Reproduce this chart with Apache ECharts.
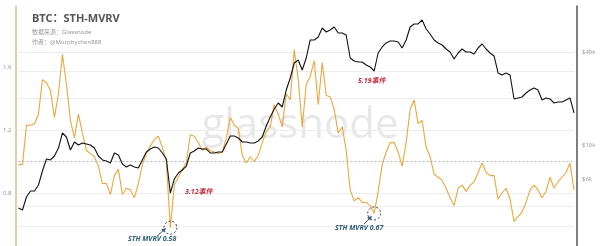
<!DOCTYPE html>
<html>
<head>
<meta charset="utf-8">
<script src="https://cdn.jsdelivr.net/npm/echarts@6/dist/echarts.min.js"></script>
<style>
html,body{margin:0;padding:0;background:#fff;}
#c{width:600px;height:246px;}
</style>
</head>
<body>
<div id="c"></div>
<script>
// STH-MVRV (left axis), sampled at equal time steps
const mvrv = [0.98,0.98,1.23,1.23,1.24,1.30,1.52,1.50,1.45,1.28,
1.43,1.68,1.49,1.26,1.15,1.30,1.18,1.07,1.05,1.03,
0.97,0.86,0.86,0.79,0.91,0.95,0.79,0.83,0.82,0.77,
0.86,0.98,1.05,1.10,1.14,1.16,1.09,1.00,0.58,0.85,
0.90,0.95,0.99,1.17,1.16,1.12,1.07,1.09,1.07,1.06,
1.05,1.06,1.15,1.28,1.23,1.21,1.04,0.99,1.03,1.00,
1.04,1.12,1.19,1.22,1.36,1.30,1.22,1.43,1.39,1.71,
1.52,1.22,1.49,1.54,1.64,1.36,1.63,1.42,1.41,1.33,
1.18,1.22,1.07,0.82,0.75,0.77,0.74,0.74,0.72,0.67,
0.81,0.98,1.06,1.12,1.12,1.06,0.97,1.12,1.33,1.39,
1.24,1.26,1.09,1.03,0.92,0.90,0.88,0.83,0.77,0.72,
0.83,0.85,0.81,0.85,0.87,0.93,0.99,0.93,0.91,0.91,
0.76,0.80,0.83,0.76,0.62,0.65,0.68,0.74,0.82,0.85,
0.82,0.77,0.81,0.90,0.83,0.87,0.90,0.93,0.99,0.82];

// BTC price in USD (right log axis)
const price = [3910,3795,4610,5040,5040,5510,6790,8120,8000,8490,
9560,11960,11270,9280,10460,10000,10300,10150,10000,9560,
8490,8000,7880,7650,8880,8620,7540,7210,7420,7210,
7100,8000,9010,9420,9710,9560,8880,8120,4890,6030,
6590,6890,7310,8880,9150,9560,9420,9420,8880,8880,
9010,9010,10150,11440,11440,11100,10460,10460,10300,10300,
10620,11270,13270,15180,17110,18700,17620,22700,27150,33950,
35500,30590,36570,47830,47830,50030,57200,53880,55510,58040,
53090,53090,51520,36570,34980,34460,34460,32960,31980,30130,
39400,43100,45750,47130,47130,46430,42450,47830,58040,60720,
60720,64440,56360,52310,47830,45750,44390,41820,40000,36040,
39400,41820,40000,40000,38820,42450,45070,41820,39400,37680,
29250,28390,29250,28390,19860,20160,20450,21710,22700,23390,
22700,19560,20160,19860,18700,18980,18980,19560,20160,16120];

const leftTicks = [0.8, 1.2, 1.6];
const rightTicks = [6000, 10000, 40000];
const rightTickLabels = ['$6k', '$10k', '$40k'];
const mvrvGrid = [0.8, 1.2];
const mvrvRef = [1.0];
const priceGrid = [3000, 4000, 20000, 30000, 40000];

const categories = mvrv.map((_, i) => String(i));

function minIndex(arr, from, to) {
  let best = from;
  for (let i = from; i < to; i++) if (arr[i] < arr[best]) best = i;
  return best;
}
const low1 = minIndex(mvrv, 0, 60);
const low2 = minIndex(mvrv, 60, 100);

const FONT = '"Noto Sans", "Noto Sans CJK SC", sans-serif';
const chart = echarts.init(document.getElementById('c'), null, {renderer: 'canvas'});

const option = {
  animation: false,
  backgroundColor: '#fff',
  textStyle: {fontFamily: FONT},
  title: {
    text: 'BTC：STH-MVRV',
    subtext: '数据来源：Glassnode\n作者：@Murphychen888',
    left: 27, top: 8,
    itemGap: 3,
    textStyle: {fontSize: 11, fontWeight: 'bold', color: '#555', fontFamily: FONT},
    subtextStyle: {fontSize: 6, color: '#999', lineHeight: 10, fontFamily: FONT}
  },
  grid: {left: 18, right: 26, top: 6, bottom: 0},
  xAxis: {
    type: 'category', data: categories, boundaryGap: false, show: false
  },
  yAxis: [{
    type: 'value', position: 'left', offset: 3,
    min: 0.4635, max: 1.987,
    axisLine: {show: true, lineStyle: {color: '#D9BF8C', width: 1.5}},
    axisTick: {show: false},
    splitLine: {show: false},
    axisLabel: {customValues: leftTicks, formatter: v => v.toFixed(1), fontSize: 6, color: '#999', margin: 4}
  }, {
    type: 'log', position: 'right', offset: 3,
    min: 2220, max: 79380,
    axisLine: {show: true, lineStyle: {color: '#555', width: 1.5}},
    axisTick: {show: false},
    splitLine: {show: false},
    axisLabel: {
      customValues: rightTicks,
      formatter: v => rightTickLabels[rightTicks.indexOf(Math.round(v))] || '',
      fontSize: 6, color: '#999', margin: 5
    }
  }],
  graphic: [
    {type: 'text', left: 'center', top: 105, z: 0, silent: true,
     style: {text: 'glassnode', fontSize: 42, fill: 'rgba(200,200,200,0.42)', fontFamily: '"Open Sans", sans-serif'}},
    {type: 'text', x: 185, y: 189, z: 100,
     style: {text: '3.12事件', fontSize: 7, fontStyle: 'italic', fontWeight: 'bold', fill: '#C2263A', fontFamily: FONT}},
    {type: 'text', x: 358, y: 78, z: 100,
     style: {text: '5.19事件', fontSize: 7, fontStyle: 'italic', fontWeight: 'bold', fill: '#C2263A', fontFamily: FONT}},
    {type: 'text', x: 128, y: 236, z: 100,
     style: {text: 'STH MVRV 0.58', fontSize: 7, fontStyle: 'italic', fontWeight: 'bold', fill: '#2F5F7A', fontFamily: FONT}},
    {type: 'text', x: 335, y: 225, z: 100,
     style: {text: 'STH MVRV 0.67', fontSize: 7, fontStyle: 'italic', fontWeight: 'bold', fill: '#2F5F7A', fontFamily: FONT}},
    {type: 'line', z: 100, shape: {x1: 157, y1: 236, x2: 164, y2: 230}, style: {stroke: '#2F5F7A', lineWidth: 1}},
    {type: 'polygon', z: 100, shape: {points: [[166, 228], [161, 229.5], [164.5, 232.5]]}, style: {fill: '#2F5F7A'}},
    {type: 'line', z: 100, shape: {x1: 364, y1: 224, x2: 370, y2: 218}, style: {stroke: '#2F5F7A', lineWidth: 1}},
    {type: 'polygon', z: 100, shape: {points: [[372, 216], [367, 217.5], [370.5, 220.5]]}, style: {fill: '#2F5F7A'}}
  ],
  series: [{
    name: 'STH-MVRV', type: 'line', yAxisIndex: 0, data: mvrv,
    showSymbol: false, symbol: 'none', z: 3,
    lineStyle: {color: '#E8A83E', width: 1.1},
    markLine: {
      silent: true, symbol: 'none', label: {show: false}, z: 1,
      data: mvrvGrid.map(v => ({yAxis: v, lineStyle: {color: '#ececec', width: 1, type: 'solid'}}))
        .concat(mvrvRef.map(v => ({yAxis: v, lineStyle: {color: '#b5b5b5', width: 1, type: [2, 2]}})))
    },
    markPoint: {
      silent: true, symbol: 'circle', symbolSize: 13, label: {show: false},
      itemStyle: {color: 'rgba(0,0,0,0)', borderColor: '#333', borderWidth: 1, borderType: [2, 2]},
      data: [{coord: [low1, mvrv[low1]]}, {coord: [low2, mvrv[low2]]}]
    }
  }, {
    name: 'Price', type: 'line', yAxisIndex: 1, data: price,
    showSymbol: false, symbol: 'none', z: 4,
    lineStyle: {color: '#111', width: 1.1},
    markLine: {
      silent: true, symbol: 'none', label: {show: false}, z: 1,
      data: priceGrid.map(v => ({yAxis: v, lineStyle: {color: '#ececec', width: 1, type: 'solid'}}))
    }
  }]
};
chart.setOption(option);
</script>
</body>
</html>
